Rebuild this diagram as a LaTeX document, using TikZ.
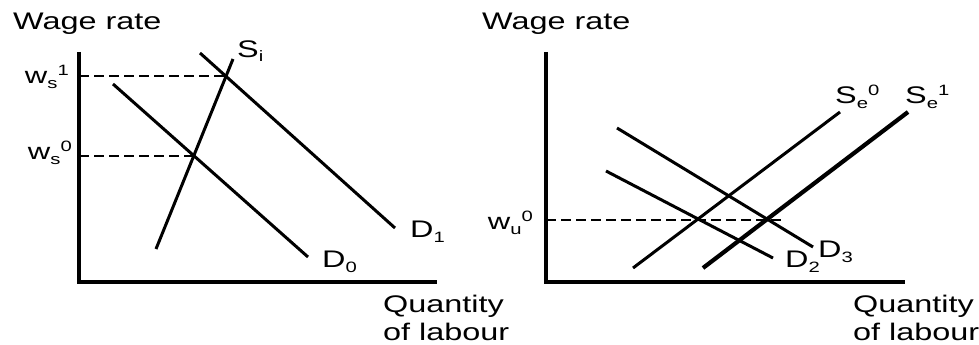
\documentclass[tikz,border=0pt]{standalone}
\usepackage{fontspec}
\setmainfont{Liberation Sans}[FakeStretch=1.35]
\usepackage{tikz}
\usetikzlibrary{positioning, calc}

\newcommand{\dnscript}[1]{\raisebox{-5pt}{\fontsize{15}{15}\selectfont #1}}
\newcommand{\upscript}[1]{\raisebox{8pt}{\fontsize{15}{15}\selectfont #1}}

\begin{document}
\begin{tikzpicture}[
    x=1pt, y=-1pt,
    % axes of both panels
    axis/.style={line width=3.2pt, black, line join=miter},
    % demand and supply schedules
    curve/.style={line width=3pt, black},
    thickcurve/.style={line width=4.2pt, black},
    % wage levels
    guide/.style={line width=2.2pt, black, dash pattern=on 10pt off 5pt},
    % text labels
    lbl/.style={inner sep=0pt, font=\fontsize{24}{28}\selectfont, anchor=base west},
    wlbl/.style={lbl, font=\fontsize{23}{28}\selectfont, anchor=base east},
    qlbl/.style={lbl, align=left, anchor=north west}
]
\useasboundingbox (0,0) rectangle (979,345);

%-------- LEFT PANEL --------
\coordinate (ltop)  at (79,52);
\coordinate (lorig) at (79,282);
\coordinate (lend)  at (437,282);
\coordinate (D0a) at (113,84);  \coordinate (D0b) at (308,257);
\coordinate (D1a) at (200,53);  \coordinate (D1b) at (395,228);
\coordinate (Sia) at (156,249); \coordinate (Sib) at (233,59);
\coordinate (eq1) at (intersection of D1a--D1b and Sia--Sib);
\coordinate (eq0) at (intersection of D0a--D0b and Sia--Sib);

\draw[axis]  (ltop) -- (lorig) -- (lend);
\draw[guide] (lorig |- eq1) -- (eq1);
\draw[guide] (lorig |- eq0) -- (eq0);
\draw[curve] (D0a) -- (D0b);
\draw[curve] (D1a) -- (D1b);
\draw[curve] (Sia) -- (Sib);

\node[lbl] (lwage) at ($(ltop)+(-66,-22)$) {Wage rate};
\node[qlbl] (lqty) at ($(lend)+(-54,13)$) {Quantity\\of labour};
\node[wlbl] (ws1) at ($(lorig |- eq1)+(-10,7)$) {w\dnscript{s}\upscript{1}};
\node[wlbl] (ws0) at ($(lorig |- eq0)+(-7,4)$) {w\dnscript{s}\upscript{0}};
\node[lbl] (Si) at ($(Sib)+(4,-2)$) {S\dnscript{i}};
\node[lbl] (D1) at ($(D1b)+(15,9)$) {D\dnscript{1}};
\node[lbl] (D0) at ($(D0b)+(14,10)$) {D\dnscript{0}};

%-------- RIGHT PANEL --------
\coordinate (rtop)  at (546,52);
\coordinate (rorig) at (546,282);
\coordinate (rend)  at (905,282);
\coordinate (Se0a) at (633,268); \coordinate (Se0b) at (840,112);
\coordinate (Se1a) at (703,268); \coordinate (Se1b) at (908,112);
\coordinate (D3a) at (617,128);  \coordinate (D3b) at (813,247);
\coordinate (D2a) at (606,171);  \coordinate (D2b) at (773,258);
\coordinate (wu) at (546,220);
\coordinate (wuend) at (782,220);

\draw[axis]  (rtop) -- (rorig) -- (rend);
\draw[guide] (wu) -- (wuend);
\draw[curve] (Se0a) -- (Se0b);
\draw[thickcurve] (Se1a) -- (Se1b);
\draw[curve] (D3a) -- (D3b);
\draw[curve] (D2a) -- (D2b);

\node[lbl] (rwage) at ($(rtop)+(-64,-22)$) {Wage rate};
\node[qlbl] (rqty) at ($(rend)+(-52,13)$) {Quantity\\of labour};
\node[wlbl] (wu0) at ($(wu)+(-13,9)$) {w\dnscript{u}\upscript{0}};
\node[lbl] (Se0) at ($(Se0b)+(-5,-9)$) {S\dnscript{e}\upscript{0}};
\node[lbl] (Se1) at ($(Se1b)+(-3,-9)$) {S\dnscript{e}\upscript{1}};
\node[lbl] (D3) at ($(D3b)+(5,10)$) {D\dnscript{3}};
\node[lbl] (D2) at ($(D2b)+(12,9)$) {D\dnscript{2}};

\end{tikzpicture}
\end{document}
